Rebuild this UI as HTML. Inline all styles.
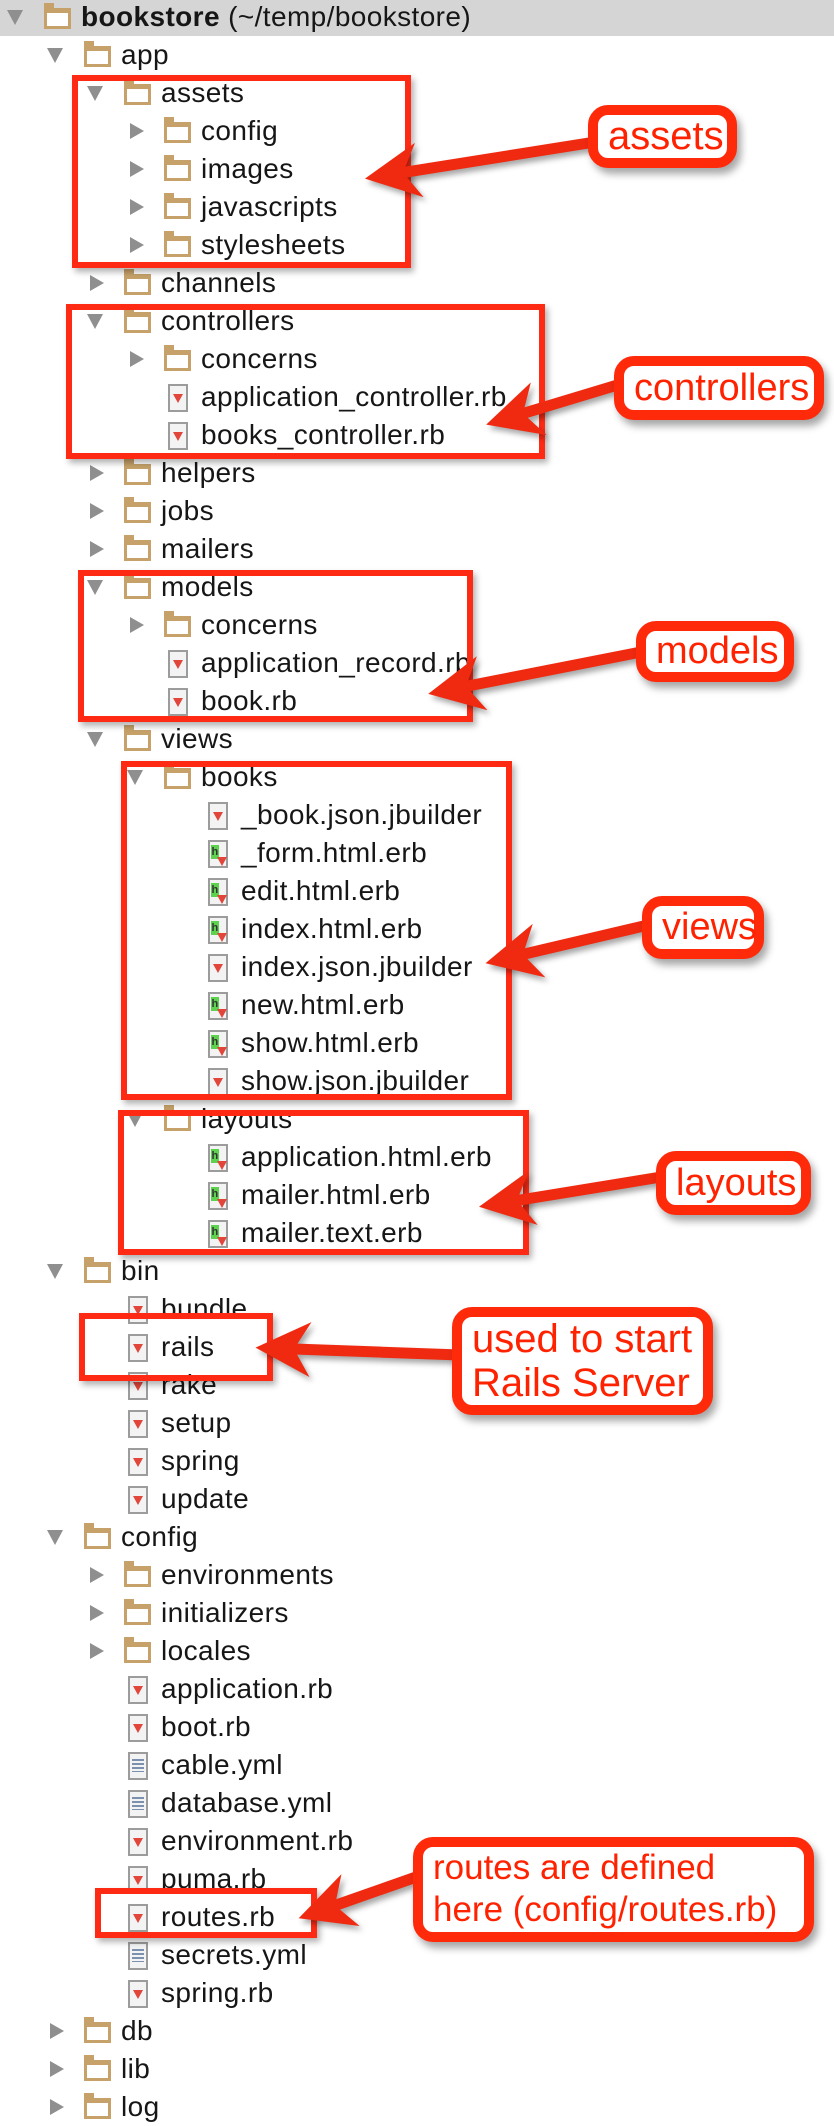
<!DOCTYPE html>
<html><head><meta charset="utf-8">
<style>
html,body{margin:0;padding:0;background:#fff;}
body{width:834px;height:2110px;position:relative;overflow:hidden;font-family:"Liberation Sans","DejaVu Sans",sans-serif;}
.hdr{position:absolute;left:0;top:0;width:834px;height:36px;background:#d5d5d5;}
.r{position:absolute;height:38px;line-height:38px;font-size:28px;letter-spacing:0.4px;color:#161616;white-space:nowrap;}
.r b{font-weight:bold;}
.td,.tr{position:absolute;width:0;height:0;}
.td{left:-74px;top:12px;border-left:8px solid transparent;border-right:8px solid transparent;border-top:15px solid #8f8f8f;}
.tr{left:-71px;top:11px;border-top:8px solid transparent;border-bottom:8px solid transparent;border-left:14px solid #8f8f8f;}
.fo{position:absolute;left:-37px;top:10px;width:21px;height:13px;border:3px solid #c6a26a;border-top-width:5px;background:#fff;}
.fo:before{content:"";position:absolute;left:-3px;top:-10px;width:10px;height:5px;background:#c6a26a;}
.fi{position:absolute;left:-33px;top:6px;width:16px;height:24px;border:2px solid #9c9c9c;background:#f3f3f3;}
.fi:after{content:"";position:absolute;left:3px;top:8px;border-left:5px solid transparent;border-right:5px solid transparent;border-top:9px solid #e2453a;}
.fi.e:before{content:"h";position:absolute;left:1px;top:3px;width:8px;height:14px;background:#5cd24f;font-size:11px;line-height:14px;color:#333;text-align:center;font-weight:bold;}
.fi.e:after{left:7px;top:15px;}
.fi.y:after{left:2px;top:5px;width:12px;height:13px;border:0;background:repeating-linear-gradient(#7c90b0 0 2px,transparent 2px 4px);}
.box{position:absolute;border:6px solid #ff2a14;box-shadow:3px 4px 6px rgba(0,0,0,0.3);}
.co{position:absolute;border:10px solid #ff2a0a;border-radius:20px;background:#fff;color:#ff2200;font-size:38px;box-shadow:4px 6px 8px rgba(0,0,0,0.35);box-sizing:border-box;padding-left:10px;white-space:nowrap;}
</style></head><body>
<div class="hdr"></div>

<div class="r" style="top:-2px;left:81px"><span class="td" style="left:-74px"></span><span class="fo"></span><b>bookstore</b> (~/temp/bookstore)</div>
<div class="r" style="top:36px;left:121px"><span class="td"></span><span class="fo"></span>app</div>
<div class="r" style="top:74px;left:161px"><span class="td"></span><span class="fo"></span>assets</div>
<div class="r" style="top:112px;left:201px"><span class="tr"></span><span class="fo"></span>config</div>
<div class="r" style="top:150px;left:201px"><span class="tr"></span><span class="fo"></span>images</div>
<div class="r" style="top:188px;left:201px"><span class="tr"></span><span class="fo"></span>javascripts</div>
<div class="r" style="top:226px;left:201px"><span class="tr"></span><span class="fo"></span>stylesheets</div>
<div class="r" style="top:264px;left:161px"><span class="tr"></span><span class="fo"></span>channels</div>
<div class="r" style="top:302px;left:161px"><span class="td"></span><span class="fo"></span>controllers</div>
<div class="r" style="top:340px;left:201px"><span class="tr"></span><span class="fo"></span>concerns</div>
<div class="r" style="top:378px;left:201px"><span class="fi"></span>application_controller.rb</div>
<div class="r" style="top:416px;left:201px"><span class="fi"></span>books_controller.rb</div>
<div class="r" style="top:454px;left:161px"><span class="tr"></span><span class="fo"></span>helpers</div>
<div class="r" style="top:492px;left:161px"><span class="tr"></span><span class="fo"></span>jobs</div>
<div class="r" style="top:530px;left:161px"><span class="tr"></span><span class="fo"></span>mailers</div>
<div class="r" style="top:568px;left:161px"><span class="td"></span><span class="fo"></span>models</div>
<div class="r" style="top:606px;left:201px"><span class="tr"></span><span class="fo"></span>concerns</div>
<div class="r" style="top:644px;left:201px"><span class="fi"></span>application_record.rb</div>
<div class="r" style="top:682px;left:201px"><span class="fi"></span>book.rb</div>
<div class="r" style="top:720px;left:161px"><span class="td"></span><span class="fo"></span>views</div>
<div class="r" style="top:758px;left:201px"><span class="td"></span><span class="fo"></span>books</div>
<div class="r" style="top:796px;left:241px"><span class="fi"></span>_book.json.jbuilder</div>
<div class="r" style="top:834px;left:241px"><span class="fi e"></span>_form.html.erb</div>
<div class="r" style="top:872px;left:241px"><span class="fi e"></span>edit.html.erb</div>
<div class="r" style="top:910px;left:241px"><span class="fi e"></span>index.html.erb</div>
<div class="r" style="top:948px;left:241px"><span class="fi"></span>index.json.jbuilder</div>
<div class="r" style="top:986px;left:241px"><span class="fi e"></span>new.html.erb</div>
<div class="r" style="top:1024px;left:241px"><span class="fi e"></span>show.html.erb</div>
<div class="r" style="top:1062px;left:241px"><span class="fi"></span>show.json.jbuilder</div>
<div class="r" style="top:1100px;left:201px"><span class="td"></span><span class="fo"></span>layouts</div>
<div class="r" style="top:1138px;left:241px"><span class="fi e"></span>application.html.erb</div>
<div class="r" style="top:1176px;left:241px"><span class="fi e"></span>mailer.html.erb</div>
<div class="r" style="top:1214px;left:241px"><span class="fi e"></span>mailer.text.erb</div>
<div class="r" style="top:1252px;left:121px"><span class="td"></span><span class="fo"></span>bin</div>
<div class="r" style="top:1290px;left:161px"><span class="fi"></span>bundle</div>
<div class="r" style="top:1328px;left:161px"><span class="fi"></span>rails</div>
<div class="r" style="top:1366px;left:161px"><span class="fi"></span>rake</div>
<div class="r" style="top:1404px;left:161px"><span class="fi"></span>setup</div>
<div class="r" style="top:1442px;left:161px"><span class="fi"></span>spring</div>
<div class="r" style="top:1480px;left:161px"><span class="fi"></span>update</div>
<div class="r" style="top:1518px;left:121px"><span class="td"></span><span class="fo"></span>config</div>
<div class="r" style="top:1556px;left:161px"><span class="tr"></span><span class="fo"></span>environments</div>
<div class="r" style="top:1594px;left:161px"><span class="tr"></span><span class="fo"></span>initializers</div>
<div class="r" style="top:1632px;left:161px"><span class="tr"></span><span class="fo"></span>locales</div>
<div class="r" style="top:1670px;left:161px"><span class="fi"></span>application.rb</div>
<div class="r" style="top:1708px;left:161px"><span class="fi"></span>boot.rb</div>
<div class="r" style="top:1746px;left:161px"><span class="fi y"></span>cable.yml</div>
<div class="r" style="top:1784px;left:161px"><span class="fi y"></span>database.yml</div>
<div class="r" style="top:1822px;left:161px"><span class="fi"></span>environment.rb</div>
<div class="r" style="top:1860px;left:161px"><span class="fi"></span>puma.rb</div>
<div class="r" style="top:1898px;left:161px"><span class="fi"></span>routes.rb</div>
<div class="r" style="top:1936px;left:161px"><span class="fi y"></span>secrets.yml</div>
<div class="r" style="top:1974px;left:161px"><span class="fi"></span>spring.rb</div>
<div class="r" style="top:2012px;left:121px"><span class="tr"></span><span class="fo"></span>db</div>
<div class="r" style="top:2050px;left:121px"><span class="tr"></span><span class="fo"></span>lib</div>
<div class="r" style="top:2088px;left:121px"><span class="tr"></span><span class="fo"></span>log</div>

<!-- red boxes -->
<div class="box" style="left:72px;top:75px;width:327px;height:181px"></div>
<div class="box" style="left:66px;top:304px;width:467px;height:143px"></div>
<div class="box" style="left:78px;top:570px;width:383px;height:140px"></div>
<div class="box" style="left:121px;top:761px;width:379px;height:327px"></div>
<div class="box" style="left:118px;top:1110px;width:399px;height:133px"></div>
<div class="box" style="left:79px;top:1313px;width:182px;height:56px"></div>
<div class="box" style="left:95px;top:1888px;width:210px;height:38px"></div>

<!-- arrows -->
<svg width="834" height="2110" style="position:absolute;left:0;top:0" xmlns="http://www.w3.org/2000/svg">
<defs><marker id="ah" markerUnits="strokeWidth" markerWidth="5" markerHeight="5" viewBox="0 0 10 10" refX="3" refY="5" orient="auto"><path d="M0,0 L10,5 L0,10 L3,5 z" fill="#f02a10"/></marker></defs>
<g stroke="#f02a10" stroke-width="11" fill="none" marker-end="url(#ah)" style="filter:drop-shadow(3px 4px 3px rgba(0,0,0,0.35))">
<line x1="595" y1="142" x2="403" y2="172.6"/>
<line x1="624" y1="383" x2="523" y2="413.5"/>
<line x1="641" y1="652" x2="466" y2="686.4"/>
<line x1="648" y1="925" x2="523" y2="954.4"/>
<line x1="661" y1="1177" x2="517" y2="1200.5"/>
<line x1="460" y1="1355" x2="294" y2="1349"/>
<line x1="419" y1="1876" x2="335" y2="1905.5"/>
</g>
</svg>

<!-- callouts -->
<div class="co" style="left:588px;top:105px;width:149px;height:63px;line-height:43px;font-size:40px">assets</div>
<div class="co" style="left:614px;top:356px;width:210px;height:64px;line-height:44px">controllers</div>
<div class="co" style="left:636px;top:621px;width:158px;height:61px;line-height:41px">models</div>
<div class="co" style="left:642px;top:896px;width:122px;height:63px;line-height:43px">views</div>
<div class="co" style="left:656px;top:1151px;width:155px;height:64px;line-height:44px">layouts</div>
<div class="co" style="left:452px;top:1307px;width:261px;height:108px;line-height:44px;font-size:40px;padding-top:0px">used to start<br>Rails Server</div>
<div class="co" style="left:413px;top:1837px;width:401px;height:105px;line-height:42px;font-size:35px;padding-top:0px">routes are defined<br>here (config/routes.rb)</div>
</body></html>
